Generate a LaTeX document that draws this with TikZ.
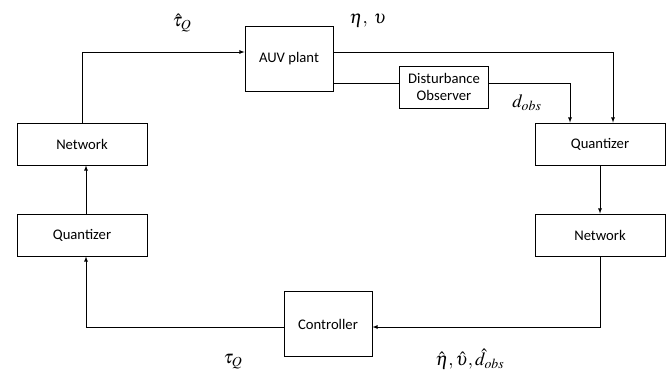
\documentclass[tikz,border=0pt]{standalone}
\usepackage{mathptmx}
\usepackage{fontspec}
\setmainfont{Carlito}
\usetikzlibrary{positioning}

\begin{document}
\begin{tikzpicture}[x=0.75pt,y=-0.75pt,>=latex,
   block/.style={draw,line width=0.6pt,font=\fontsize{11}{12.5}\selectfont,align=center,inner sep=0pt},
   wide/.style={block,minimum width=97.5pt,minimum height=31.5pt},
   square/.style={block,minimum width=66pt,minimum height=49pt},
   lbl/.style={font=\fontsize{14}{16}\selectfont}]

   \useasboundingbox (0,0) rectangle (671,378);

   % blocks
   \node[square] (auv) at (289,59) {AUV plant};
   \node[block,minimum width=66.5pt,minimum height=31.5pt] (dob) at (444,87) {Disturbance\\Observer};
   \node[wide] (quantR) at (600,144) {Quantizer};
   \node[wide] (netR) at (600,235) {Network};
   \node[square] (ctrl) at (328,324) {Controller};
   \node[wide] (quantL) at (82,235) {Quantizer};
   \node[wide] (netL) at (82,144) {Network};

   % signals
   \draw[->] (netL.north) |- (auv.west |- 0,52);
   \draw[->] (auv.east |- 0,52) -| (quantR.north -| 613,0);
   \draw (auv.east |- 0,83) -- (dob.west |- 0,83);
   \draw[->] (dob.east |- 0,83) -| (quantR.north -| 570,0);
   \draw[->] (quantR.south) -- (netR.north);
   \draw[->] (netR.south) |- (ctrl.east |- 0,327);
   \draw[->] (ctrl.west |- 0,327) -| (quantL.south -| 86,0);
   \draw[->] (quantL.north -| 86,0) -- (netL.south -| 86,0);

   % labels
   \node[lbl] (tauhat) at (182,23) {$\hat{\tau}_{Q}$};
   \node[lbl] (etanu) at (368,21) {$\eta,\ \upsilon$};
   \node[lbl] (dobs) at (527,103) {$d_{obs}$};
   \node[lbl] (tau) at (233,362) {$\tau_{Q}$};
   \node[lbl] (hats) at (470,359) {$\hat{\eta},\hat{\upsilon},\hat{d}_{obs}$};

\end{tikzpicture}
\end{document}
